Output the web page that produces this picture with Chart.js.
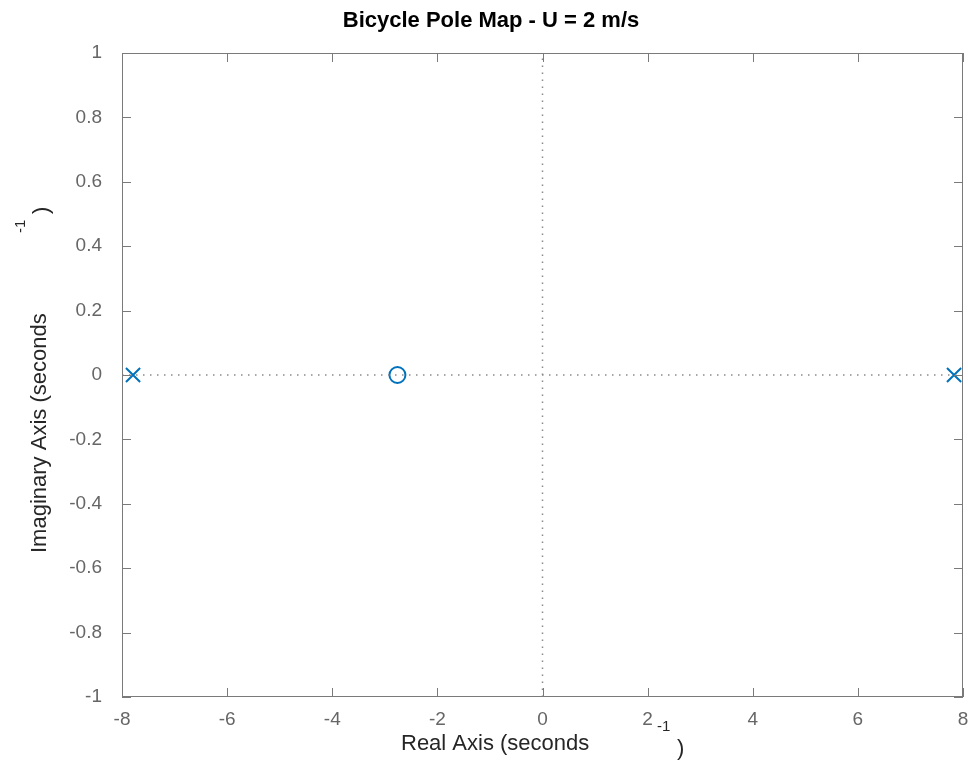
<!DOCTYPE html>
<html>
<head>
<meta charset="utf-8">
<script src="https://cdn.jsdelivr.net/npm/chart.js@4/dist/chart.umd.min.js"></script>
<style>
  body { margin: 0; background: #fff; }
  #wrap { width: 968px; height: 776px; }
</style>
</head>
<body>
<div id="wrap"><canvas id="poleMap" width="968" height="776"></canvas></div>
<script>
// pole / zero locations
const poleRe = [-7.79, 7.83];
const poleIm = [0, 0];
const zeroRe = [-2.76];
const zeroIm = [0];

const xTicks = [-8, -6, -4, -2, 0, 2, 4, 6, 8];
const yTicks = [-1, -0.8, -0.6, -0.4, -0.2, 0, 0.2, 0.4, 0.6, 0.8, 1];

const titleText = "Bicycle Pole Map - U = 2 m/s";
const xLabel = "Real Axis (seconds";
const yLabel = "Imaginary Axis (seconds";

const BLUE = "#0072BD";
const FONT = "'Liberation Sans', Arial, Helvetica, sans-serif";

// draws the box, inward ticks, title and axis labels (matlab style)
const matlabAxes = {
  id: "matlabAxes",
  afterDraw(chart) {
    const { ctx, chartArea: a, scales } = chart;
    const tl = 9;
    ctx.save();
    ctx.strokeStyle = "#7a7a7a";
    ctx.lineWidth = 1;
    ctx.strokeRect(a.left + 0.5, a.top + 0.5, a.right - a.left - 1, a.bottom - a.top - 1);
    ctx.beginPath();
    xTicks.forEach((v) => {
      const px = Math.round(scales.x.getPixelForValue(v)) + 0.5;
      ctx.moveTo(px, a.bottom); ctx.lineTo(px, a.bottom - tl);
      ctx.moveTo(px, a.top); ctx.lineTo(px, a.top + tl);
    });
    yTicks.forEach((v) => {
      const py = Math.round(scales.y.getPixelForValue(v)) + 0.5;
      ctx.moveTo(a.left, py); ctx.lineTo(a.left + tl, py);
      ctx.moveTo(a.right, py); ctx.lineTo(a.right - tl, py);
    });
    ctx.stroke();

    // title
    ctx.fillStyle = "#000";
    ctx.font = "bold 22px " + FONT;
    ctx.textAlign = "center";
    ctx.textBaseline = "middle";
    ctx.fillText(titleText, 491, 21);

    // x label
    ctx.fillStyle = "#262626";
    ctx.font = "22px " + FONT;
    ctx.textAlign = "left";
    ctx.textBaseline = "alphabetic";
    const x0 = 401;
    ctx.fillText(xLabel, x0, 750);
    ctx.font = "15px " + FONT;
    ctx.fillText("-1", x0 + 256, 731);
    ctx.font = "22px " + FONT;
    ctx.fillText(")", x0 + 276, 755);

    // y label (rotated)
    ctx.translate(46, 0);
    ctx.rotate(-Math.PI / 2);
    const y0 = -553;
    ctx.fillText(yLabel, y0, 0);
    ctx.font = "15px " + FONT;
    ctx.fillText("-1", y0 + 320, -21);
    ctx.font = "22px " + FONT;
    ctx.fillText(")", y0 + 339, 2);
    ctx.restore();
  },
};

const ctx = document.getElementById("poleMap").getContext("2d");

const config = {
  type: "scatter",
  data: {
    datasets: [
      {
        type: "line",
        data: [{ x: xTicks[0], y: 0 }, { x: xTicks[xTicks.length - 1], y: 0 }],
        borderColor: "#8a8a8a",
        borderWidth: 1.5,
        borderDash: [1.5, 5.5],
        pointRadius: 0,
      },
      {
        type: "line",
        data: [{ x: 0, y: yTicks[0] }, { x: 0, y: yTicks[yTicks.length - 1] }],
        borderColor: "#8a8a8a",
        borderWidth: 1.5,
        borderDash: [1.5, 5.5],
        pointRadius: 0,
      },
      {
        label: "poles",
        data: poleRe.map((re, i) => ({ x: re, y: poleIm[i] })),
        pointStyle: "crossRot",
        pointRadius: 10,
        borderColor: BLUE,
        borderWidth: 2,
      },
      {
        label: "zeros",
        data: zeroRe.map((re, i) => ({ x: re, y: zeroIm[i] })),
        pointStyle: "circle",
        pointRadius: 8,
        borderColor: BLUE,
        backgroundColor: "rgba(0,0,0,0)",
        borderWidth: 2,
      },
    ],
  },
  options: {
    responsive: false,
    animation: false,
    clip: false,
    layout: { autoPadding: false, padding: { top: 53, right: 5, left: 0, bottom: 0 } },
    scales: {
      x: {
        type: "linear",
        min: -8,
        max: 8,
        grid: { display: false },
        border: { display: false },
        afterBuildTicks: (s) => { s.ticks = xTicks.map((v) => ({ value: v })); },
        afterFit: (s) => { s.height = 79; s.paddingLeft = 0; s.paddingRight = 0; },
        ticks: {
          padding: 3,
          color: "#666",
          font: { family: FONT, size: 19 },
          callback: (v) => String(v),
        },
      },
      y: {
        type: "linear",
        min: -1,
        max: 1,
        grid: { display: false },
        border: { display: false },
        afterBuildTicks: (s) => { s.ticks = yTicks.map((v) => ({ value: v })); },
        afterFit: (s) => { s.width = 122; s.paddingTop = 0; s.paddingBottom = 0; },
        ticks: {
          padding: 12,
          color: "#666",
          font: { family: FONT, size: 19 },
          callback: (v) => String(Number(v.toFixed(1))),
        },
      },
    },
    plugins: {
      legend: { display: false },
      tooltip: { enabled: false },
    },
  },
  plugins: [matlabAxes],
};

new Chart(ctx, config);
</script>
</body>
</html>
